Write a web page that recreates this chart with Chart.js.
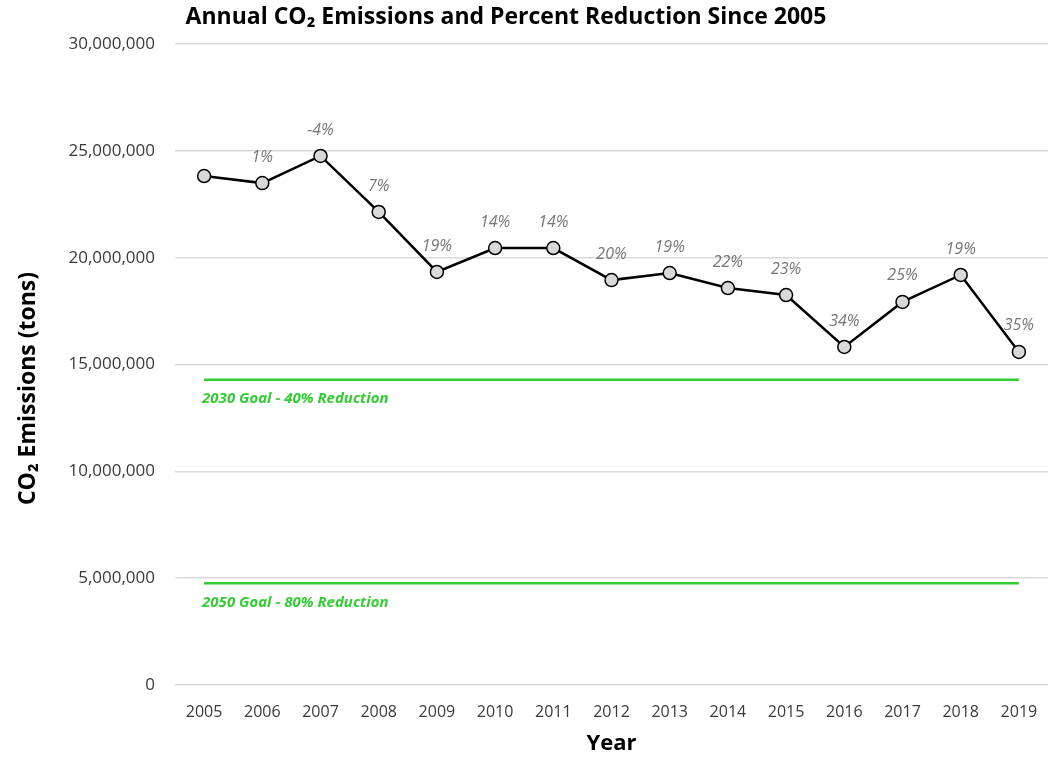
<!DOCTYPE html>
<html>
<head>
<meta charset="utf-8">
<script src="https://cdn.jsdelivr.net/npm/chart.js@4.4.1/dist/chart.umd.min.js"></script>
<style>
  html, body { margin: 0; padding: 0; background: #fff; }
  #wrap { width: 1056px; height: 757px; }
</style>
</head>
<body>
<div id="wrap"><canvas id="co2Chart"></canvas></div>
<script>
const years = ['2005', '2006', '2007', '2008', '2009', '2010', '2011', '2012', '2013', '2014', '2015', '2016', '2017', '2018', '2019'];
const emissions = [23820000, 23490000, 24760000, 22140000, 19330000, 20450000, 20450000, 18950000, 19280000, 18580000, 18250000, 15820000, 17930000, 19190000, 15590000];
const reductionLabels = ['', '1%', '-4%', '7%', '19%', '14%', '14%', '20%', '19%', '22%', '23%', '34%', '25%', '19%', '35%'];
const goal2030 = 14290000;
const goal2050 = 4760000;
const goalNames = ['2030 Goal - 40% Reduction', '2050 Goal - 80% Reduction'];
const chartTitle = 'Annual CO\u2082 Emissions and Percent Reduction Since 2005';

const FONT = "'Open Sans', sans-serif";

// title, percent labels over the points, goal captions under the green lines
const annotate = {
  id: 'annotate',
  afterDatasetsDraw(chart) {
    const ctx = chart.ctx;
    ctx.save();
    ctx.textBaseline = 'middle';

    ctx.textAlign = 'center';
    ctx.fillStyle = '#000';
    ctx.font = 'bold 23px ' + FONT;
    ctx.fillText(chartTitle, 506, 17);

    ctx.font = 'italic 16px ' + FONT;
    ctx.fillStyle = '#767676';
    chart.getDatasetMeta(0).data.forEach((pt, i) => {
      if (reductionLabels[i]) ctx.fillText(reductionLabels[i], pt.x, pt.y - 26);
    });

    ctx.textAlign = 'left';
    ctx.font = 'italic bold 15px ' + FONT;
    ctx.fillStyle = '#33cc33';
    [1, 2].forEach((d, k) => {
      const pt = chart.getDatasetMeta(d).data[0];
      ctx.fillText(goalNames[k], pt.x - 2, pt.y + 19);
    });

    // y axis title with subscript
    const y = chart.scales.y;
    ctx.translate(28, (y.top + y.bottom) / 2 + 24);
    ctx.rotate(-Math.PI / 2);
    ctx.fillStyle = '#000';
    ctx.textAlign = 'center';
    ctx.font = 'bold 23px ' + FONT;
    ctx.fillText('CO\u2082 Emissions (tons)', 0, 0);
    ctx.restore();
  }
};

new Chart(document.getElementById('co2Chart'), {
  type: 'line',
  data: {
    labels: years,
    datasets: [
      {
        label: 'CO2 Emissions',
        data: emissions,
        borderColor: '#000',
        borderWidth: 2.5,
        pointRadius: 6.5,
        pointBackgroundColor: '#d9d9d9',
        pointBorderColor: '#000',
        pointBorderWidth: 1.5,
        tension: 0,
        order: 0
      },
      {
        label: goalNames[0],
        data: years.map(() => goal2030),
        borderColor: '#33cc33',
        borderWidth: 2.5,
        pointRadius: 0,
        order: 1
      },
      {
        label: goalNames[1],
        data: years.map(() => goal2050),
        borderColor: '#33cc33',
        borderWidth: 2.5,
        pointRadius: 0,
        order: 1
      }
    ]
  },
  options: {
    responsive: true,
    maintainAspectRatio: false,
    animation: false,
    layout: { padding: { top: 44, right: 6, left: 0, bottom: 0 } },
    plugins: {
      legend: { display: false },
      tooltip: { enabled: false },
      title: { display: false }
    },
    scales: {
      x: {
        offset: true,
        afterFit(scale) { scale.height = 72; },
        grid: { display: false },
        border: { display: false },
        ticks: { color: '#3a3a3a', font: { family: FONT, size: 16 }, padding: 10, maxRotation: 0 },
        title: {
          display: true,
          text: 'Year',
          color: '#000',
          font: { family: FONT, size: 22, weight: 'bold' },
          padding: { top: 0, bottom: 0 }
        }
      },
      y: {
        min: 0,
        max: 30000000,
        afterFit(scale) { scale.width = 175; },
        grid: { color: '#d9d9d9', lineWidth: 1.5, drawTicks: false },
        border: { display: false },
        ticks: {
          stepSize: 5000000,
          color: '#3a3a3a',
          padding: 20,
          font: { family: FONT, size: 17 },
          callback: v => v.toLocaleString('en-US')
        }
      }
    }
  },
  plugins: [annotate]
});
</script>
</body>
</html>
